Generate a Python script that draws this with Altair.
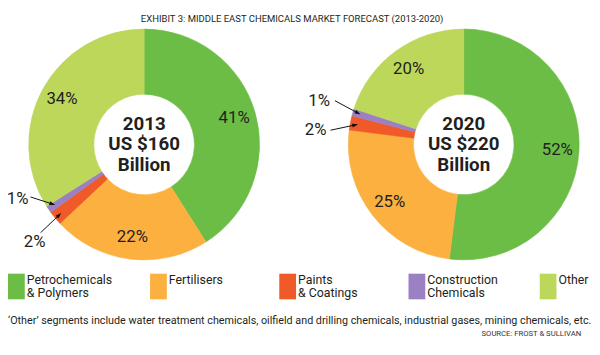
import math
import altair as alt
import pandas as pd

# ---------------- data ----------------
segments = ["Petrochemicals & Polymers", "Fertilisers", "Paints & Coatings",
            "Construction Chemicals", "Other"]
legend_labels = ["Petrochemicals\n& Polymers", "Fertilisers", "Paints\n& Coatings",
                 "Construction\nChemicals", "Other"]
colors = ["#6CBD45", "#FBB040", "#F05A28", "#9B80C3", "#BDD75B"]
years = [2013, 2020]
totals = [160, 220]
share_2013 = [41, 22, 2, 1, 34]
share_2020 = [52, 25, 2, 1, 20]
shares = [share_2013, share_2020]
title_text = "EXHIBIT 3: MIDDLE EAST CHEMICALS MARKET FORECAST (2013-2020)"
note_text = ("\u2018Other\u2019 segments include water treatment chemicals, oilfield and drilling "
             "chemicals, industrial gases, mining chemicals, etc.")
source_text = "SOURCE: FROST & SULLIVAN"

# ---------------- layout ----------------
W, H = 592, 339
CX = [138, 462]
CY = 136
R_OUT, R_IN, R_LABEL = 117, 51, 95
NARROW = "Roboto, 'DejaVu Sans Condensed', sans-serif"
SANS = "Roboto, 'Liberation Sans', sans-serif"
INK = "#231F20"

# arrow/label offsets for the small slices (tail offset from tip, text offset from tail, align)
ann_layout = {
    (0, 3): ((-25, -8), (-2, 2), "right"),
    (0, 2): ((-21, 20), (-6, 9), "center"),
    (1, 3): ((-26, -14), (-5, 0), "right"),
    (1, 2): ((-28, 6), (-4, 0), "right"),
}
TIP_R = 109

color_scale = alt.Scale(domain=segments, range=colors)
layers = []
ann_rows = []
for i in range(2):
    df = pd.DataFrame({"segment": segments, "share": shares[i], "idx": list(range(5))})
    base = alt.Chart(df).encode(
        theta=alt.Theta("share:Q", stack=True),
        order=alt.Order("idx:Q"),
        x=alt.value(CX[i]),
        y=alt.value(CY),
    )
    arcs = base.mark_arc(innerRadius=R_IN, outerRadius=R_OUT, strokeWidth=0.6).encode(
        color=alt.Color("segment:N", scale=color_scale, legend=None),
        stroke=alt.Stroke("segment:N", scale=color_scale, legend=None),
    )
    labels = base.transform_calculate(
        lbl="datum.share >= 5 ? datum.share + '%' : ''"
    ).mark_text(radius=R_LABEL, font=SANS, fontSize=17, color=INK, baseline="middle").encode(
        text="lbl:N"
    )
    center = alt.Chart(pd.DataFrame({"t": [f"{years[i]}\nUS ${totals[i]}\nBillion"]})).mark_text(
        lineBreak="\n", font=SANS, fontSize=19, fontWeight="bold", lineHeight=21,
        baseline="middle", align="center", color=INK
    ).encode(text="t:N", x=alt.value(CX[i]), y=alt.value(CY - 21))
    layers += [arcs, labels, center]

    # annotations for small slices, derived from the cumulative shares
    cum = 0
    for j, s in enumerate(shares[i]):
        mid = (cum + s / 2) / 100 * 2 * math.pi
        cum += s
        if (i, j) in ann_layout:
            (tdx, tdy), (lx, ly), al = ann_layout[(i, j)]
            tipx = CX[i] + TIP_R * math.sin(mid)
            tipy = CY - TIP_R * math.cos(mid)
            tailx, taily = tipx + tdx, tipy + tdy
            dx, dy = tipx - tailx, tipy - taily
            L = math.hypot(dx, dy)
            ux, uy = dx / L, dy / L
            ann_rows.append(dict(
                x=tailx, y=taily, x2=tipx - ux * 2, y2=tipy - uy * 2,
                hx=tipx - ux * 3, hy=tipy - uy * 3,
                ang=math.degrees(math.atan2(dx, -dy)),
                tx=tailx + lx, ty=taily + ly, al=al, lbl=f"{s}%",
            ))

ann = pd.DataFrame(ann_rows)
rules = alt.Chart(ann).mark_rule(color="#111", strokeWidth=1).encode(
    x=alt.X("x:Q", scale=None), y=alt.Y("y:Q", scale=None),
    x2="x2:Q", y2="y2:Q",
)
heads = alt.Chart(ann).mark_point(
    shape="M0,-1L0.65,1L-0.65,1Z", filled=True, color="#111", size=36, opacity=1
).encode(
    x=alt.X("hx:Q", scale=None), y=alt.Y("hy:Q", scale=None),
    angle=alt.Angle("ang:Q", scale=None),
)
small_r = alt.Chart(ann[ann.al == "right"]).mark_text(
    font=SANS, fontSize=17, color=INK, align="right", baseline="middle"
).encode(x=alt.X("tx:Q", scale=None), y=alt.Y("ty:Q", scale=None), text="lbl:N")
small_c = alt.Chart(ann[ann.al == "center"]).mark_text(
    font=SANS, fontSize=17, color=INK, align="center", baseline="middle"
).encode(x=alt.X("tx:Q", scale=None), y=alt.Y("ty:Q", scale=None), text="lbl:N")

# legend
LEG_X = [0, 144, 275, 406, 539]
leg = pd.DataFrame({"segment": segments, "lab": legend_labels,
                    "x": LEG_X, "x2": [v + 17 for v in LEG_X],
                    "tx": [v + 19 for v in LEG_X]})
leg_rects = alt.Chart(leg).mark_rect().encode(
    x=alt.X("x:Q", scale=None), x2="x2:Q",
    y=alt.value(267), y2=alt.value(293),
    color=alt.Color("segment:N", scale=color_scale, legend=None),
)
leg_text = alt.Chart(leg).mark_text(
    lineBreak="\n", font=NARROW, fontSize=12.5, lineHeight=13.5, align="left",
    baseline="alphabetic", color=INK
).encode(x=alt.X("tx:Q", scale=None), y=alt.value(277.5), text="lab:N")

texts = pd.DataFrame({"t": [title_text]})
title = alt.Chart(texts).mark_text(
    font=NARROW, fontSize=9.6, color=INK, align="center", baseline="alphabetic"
).encode(text="t:N", x=alt.value(288), y=alt.value(12))
note = alt.Chart(pd.DataFrame({"t": [note_text]})).mark_text(
    font=NARROW, fontSize=10.9, color=INK, align="left", baseline="alphabetic"
).encode(text="t:N", x=alt.value(0), y=alt.value(318.5))
source = alt.Chart(pd.DataFrame({"t": [source_text]})).mark_text(
    font=NARROW, fontSize=7.8, color="#333", align="right", baseline="alphabetic"
).encode(text="t:N", x=alt.value(581), y=alt.value(330))

chart = alt.layer(
    *layers, rules, heads, small_r, small_c, leg_rects, leg_text, title, note, source
).properties(
    width=W, height=H, padding=0, autosize=alt.AutoSizeParams(type="none")
).configure_view(strokeWidth=0)

chart.save("out.html", embed_options={"renderer": "svg", "actions": False})
